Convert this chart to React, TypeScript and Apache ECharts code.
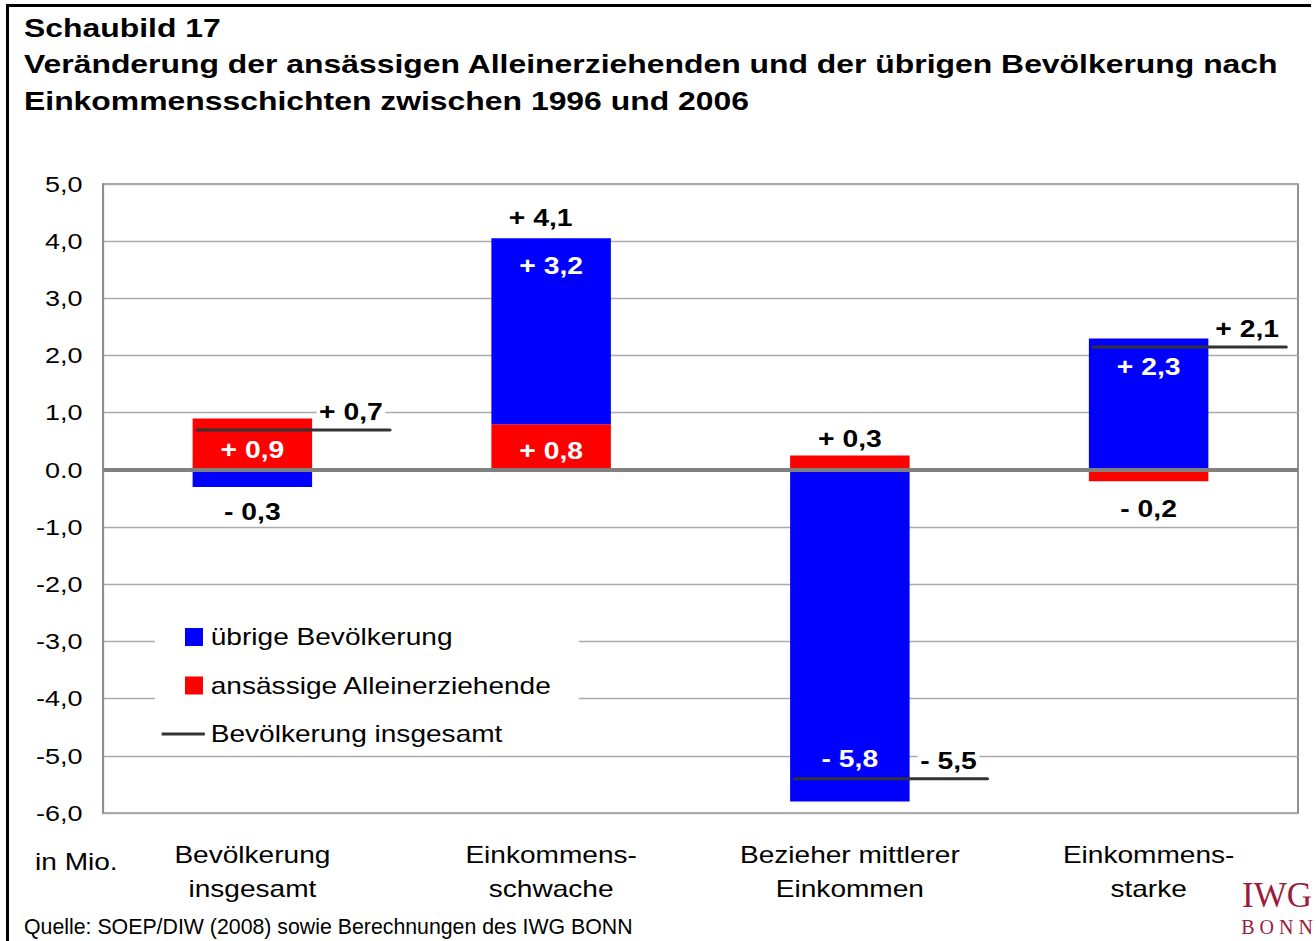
import React, { useEffect, useRef } from "react";
import * as echarts from "echarts";

// ---- data ----
const categories = [
  "Bevölkerung\ninsgesamt",
  "Einkommens-\nschwache",
  "Bezieher mittlerer\nEinkommen",
  "Einkommens-\nstarke",
];
const alleinerziehende = [0.9, 0.8, 0.25, -0.2];
const alleinerziehendeLabels = ["+ 0,9", "+ 0,8", "+ 0,3", "- 0,2"];
const uebrige = [-0.3, 3.25, -5.8, 2.3];
const uebrigeLabels = ["- 0,3", "+ 3,2", "- 5,8", "+ 2,3"];
const insgesamt = [0.7, 4.1, -5.4, 2.15];
const insgesamtLabels = ["+ 0,7", "+ 4,1", "- 5,5", "+ 2,1"];
const insgesamtLineShown = [true, false, true, true];
const yMin = -6;
const yMax = 5;
const yInterval = 1;

const seriesNames = {
  blue: "übrige Bevölkerung",
  red: "ansässige Alleinerziehende",
  line: "Bevölkerung insgesamt",
};

const titleLines = [
  "Schaubild 17",
  "Veränderung der ansässigen Alleinerziehenden und der übrigen Bevölkerung nach",
  "Einkommensschichten zwischen 1996 und 2006",
];
const sourceText = "Quelle: SOEP/DIW (2008) sowie Berechnungen des IWG BONN";
const unitText = "in Mio.";

// ---- layout helpers ----
const PAGE_W = 1316;
const PAGE_H = 941;
const CHART_W = 1097;
const STRETCH = PAGE_W / CHART_W;
const px = (x: number) => x / STRETCH;
const FONT = '"Liberation Sans", Arial, Helvetica, sans-serif';

const redLabelPlacement: any[] = [
  { position: "inside", offset: [0, 6], color: "#fff" },
  { position: "inside", offset: [0, 4], color: "#fff" },
  { position: "top", distance: 5, color: "#000" },
  { position: "bottom", distance: 15, color: "#000" },
];
const blueLabelPlacement: any[] = [
  { position: "bottom", distance: 13, color: "#000" },
  { position: "insideTop", distance: 16, color: "#fff" },
  { position: "insideBottom", distance: 31, color: "#fff" },
  { position: "insideTop", distance: 16, color: "#fff" },
];

const squareIcon =
  "path://M0,0h0.01v0.01h-0.01Z M19.5,0h15v18h-15Z M35.99,17.99h0.01v0.01h-0.01Z";
const lineIcon =
  "path://M0,0h0.01v0.01h-0.01Z M0,7.5h36v3h-36Z M35.99,17.99h0.01v0.01h-0.01Z";

export default function App() {
  const ref = useRef<HTMLDivElement>(null);

  useEffect(() => {
    if (!ref.current) return;
    const chart = echarts.init(ref.current, null, { renderer: "svg" });

    const barLabelBase = {
      show: true,
      fontFamily: FONT,
      fontWeight: "bold",
      fontSize: 23.6,
    };

    const option: any = {
      animation: false,
      backgroundColor: "#fff",
      title: {
        text: titleLines.join("\n"),
        left: px(24),
        top: 8.5,
        padding: 0,
        textStyle: {
          fontFamily: FONT,
          fontSize: 26.6,
          fontWeight: "bold",
          lineHeight: 37,
          color: "#000",
        },
      },
      legend: {
        orient: "vertical",
        left: px(155),
        top: 615,
        backgroundColor: "#fff",
        padding: [10, 22, 6, 5.5],
        itemWidth: 36,
        itemHeight: 18,
        itemGap: 24.5,
        selectedMode: false,
        textStyle: {
          fontFamily: FONT,
          fontSize: 23.4,
          lineHeight: 24,
          color: "#000",
        },
        data: [
          { name: seriesNames.blue, icon: squareIcon },
          { name: seriesNames.red, icon: squareIcon },
          { name: seriesNames.line, icon: lineIcon },
        ],
      },
      grid: {
        left: px(103),
        right: CHART_W - px(1298),
        top: 184,
        bottom: PAGE_H - 813,
        show: true,
        borderColor: "#8c8c8c",
        borderWidth: 1.6,
        backgroundColor: "transparent",
      },
      xAxis: {
        type: "category",
        data: categories,
        axisLine: { show: false, onZero: false },
        axisTick: { show: false },
        splitLine: { show: false },
        axisLabel: {
          interval: 0,
          margin: 25,
          fontFamily: FONT,
          fontSize: 23.4,
          lineHeight: 34,
          color: "#000",
        },
      },
      yAxis: {
        type: "value",
        min: yMin,
        max: yMax,
        interval: yInterval,
        axisLine: { show: true, lineStyle: { color: "#8c8c8c", width: 1.6 } },
        axisTick: { show: false },
        splitLine: { show: true, lineStyle: { color: "#ababab", width: 1.3 } },
        axisLabel: {
          margin: 17,
          fontFamily: FONT,
          fontSize: 22.5,
          color: "#000",
          formatter: (v: number) =>
            v === 0 ? "0.0" : v.toFixed(1).replace(".", ","),
        },
      },
      series: [
        {
          name: seriesNames.red,
          type: "bar",
          stack: "total",
          barWidth: "40%",
          itemStyle: { color: "#ff0000" },
          emphasis: { disabled: true },
          label: barLabelBase,
          data: alleinerziehende.map((v, i) => ({
            value: v,
            label: {
              ...barLabelBase,
              formatter: alleinerziehendeLabels[i],
              ...redLabelPlacement[i],
            },
          })),
          markLine: {
            silent: true,
            symbol: ["none", "none"],
            label: { show: false },
            lineStyle: { color: "#808080", width: 4, type: "solid" },
            emphasis: { disabled: true },
            data: [{ yAxis: 0 }],
          },
        },
        {
          name: seriesNames.blue,
          type: "bar",
          stack: "total",
          barWidth: "40%",
          itemStyle: { color: "#0000ff" },
          emphasis: { disabled: true },
          label: barLabelBase,
          data: uebrige.map((v, i) => ({
            value: v,
            label: {
              ...barLabelBase,
              formatter: uebrigeLabels[i],
              ...blueLabelPlacement[i],
            },
          })),
        },
        {
          name: seriesNames.line,
          type: "custom",
          z: 6,
          itemStyle: { color: "#333333" },
          data: insgesamt.map((v, i) => [i, v]),
          renderItem: (params: any, api: any) => {
            const i = api.value(0);
            const v = api.value(1);
            const pt = api.coord([i, v]);
            const bw = api.size([1, 0])[0];
            const children: any[] = [];
            if (insgesamtLineShown[i]) {
              children.push({
                type: "line",
                shape: {
                  x1: pt[0] - 0.185 * bw,
                  y1: pt[1],
                  x2: pt[0] + 0.46 * bw,
                  y2: pt[1],
                },
                style: { stroke: "#333333", lineWidth: 3, lineCap: "round" },
              });
            }
            const lx = insgesamtLineShown[i]
              ? pt[0] + 0.33 * bw
              : pt[0] - 0.035 * bw;
            children.push({
              type: "text",
              x: lx,
              y: pt[1] - 18,
              z2: 10,
              style: {
                text: insgesamtLabels[i],
                fill: "#000",
                fontFamily: FONT,
                fontWeight: "bold",
                fontSize: 23.6,
                align: "center",
                verticalAlign: "middle",
                backgroundColor: "#fff",
                padding: [0, 2],
              },
            });
            return { type: "group", children };
          },
        },
      ],
      graphic: [
        {
          type: "line",
          silent: true,
          shape: { x1: px(6), y1: 5.5, x2: px(1311), y2: 5.5 },
          style: { stroke: "#000", lineWidth: 3 },
        },
        {
          type: "line",
          silent: true,
          shape: { x1: px(7.5), y1: 4, x2: px(7.5), y2: PAGE_H + 5 },
          style: { stroke: "#000", lineWidth: 2.5 },
        },
        {
          type: "text",
          silent: true,
          x: px(35),
          y: 862,
          style: {
            text: unitText,
            fill: "#000",
            fontFamily: FONT,
            fontSize: 23.4,
            align: "left",
            verticalAlign: "middle",
          },
        },
        {
          type: "text",
          silent: true,
          x: px(24),
          y: 927,
          scaleX: 1 / STRETCH,
          style: {
            text: sourceText,
            fill: "#000",
            fontFamily: FONT,
            fontSize: 21.3,
            align: "left",
            verticalAlign: "middle",
          },
        },
        {
          type: "text",
          silent: true,
          x: px(1277),
          y: 896,
          scaleX: 1 / STRETCH,
          style: {
            text: "IWG",
            fill: "#9b1c3c",
            fontFamily: '"Liberation Serif", "Times New Roman", serif',
            fontSize: 35,
            align: "center",
            verticalAlign: "middle",
          },
        },
        {
          type: "text",
          silent: true,
          x: px(1277),
          y: 927,
          scaleX: 1 / STRETCH,
          style: {
            text: "B O N N",
            fill: "#9b1c3c",
            fontFamily: '"Liberation Serif", "Times New Roman", serif',
            fontSize: 20,
            align: "center",
            verticalAlign: "middle",
          },
        },
      ],
    };

    chart.setOption(option);
    return () => chart.dispose();
  }, []);

  return (
    <div
      ref={ref}
      style={{
        position: "absolute",
        left: 0,
        top: 0,
        width: CHART_W,
        height: PAGE_H,
        transform: `scaleX(${STRETCH})`,
        transformOrigin: "0 0",
        background: "#fff",
      }}
    />
  );
}
